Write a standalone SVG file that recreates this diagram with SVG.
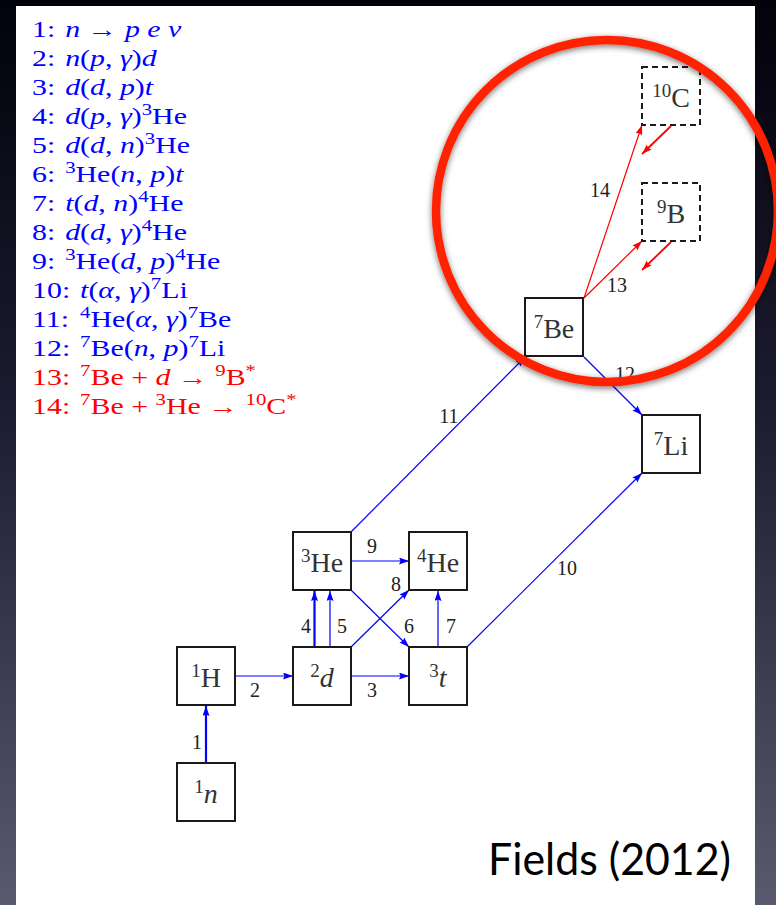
<svg xmlns="http://www.w3.org/2000/svg" width="776" height="905" viewBox="0 0 776 905">
<defs>
<linearGradient id="bg" x1="0" y1="0" x2="0" y2="1">
<stop offset="0" stop-color="#02020c"/>
<stop offset="0.45" stop-color="#1c1c30"/>
<stop offset="1" stop-color="#5a5a6e"/>
</linearGradient>
<filter id="sh" x="-20%" y="-20%" width="140%" height="140%">
<feDropShadow dx="0" dy="2" stdDeviation="3" flood-color="#000" flood-opacity="0.55"/>
</filter>
<marker id="ab" markerUnits="userSpaceOnUse" markerWidth="10" markerHeight="8" refX="10" refY="3.5" orient="auto">
<path d="M0,0 L10,3.5 L0,7 L1.5,3.5 z" fill="#0000ff"/>
</marker>
<marker id="ar" markerUnits="userSpaceOnUse" markerWidth="10" markerHeight="8" refX="10" refY="3.5" orient="auto">
<path d="M0,0 L10,3.5 L0,7 L1.5,3.5 z" fill="#ff0000"/>
</marker>
</defs>
<style>
.leg{font-family:"Liberation Serif","DejaVu Serif",serif;font-size:23px}
.blue{fill:#0000ff}
.red{fill:#ff0000}
.it{font-style:italic}
.box{fill:#fff;stroke:#1a1a1a;stroke-width:2}
.dbox{fill:#fff;stroke:#1a1a1a;stroke-width:2;stroke-dasharray:6 4}
.nl{font-family:"Liberation Serif","DejaVu Serif",serif;font-size:28px;fill:#333;text-anchor:middle}
.el{font-family:"Liberation Serif","DejaVu Serif",serif;font-size:20px;fill:#222;text-anchor:middle}
.eb{stroke:#0000ff;stroke-width:1.2;fill:none;marker-end:url(#ab)}
.ebt{stroke:#0000ff;stroke-width:2.2;fill:none;marker-end:url(#ab)}
.er{stroke:#ff0000;stroke-width:1.2;fill:none;marker-end:url(#ar)}
.ert{stroke:#ff0000;stroke-width:1.8;fill:none;marker-end:url(#ar)}
</style>
<rect x="0" y="0" width="776" height="905" fill="url(#bg)"/>
<rect x="16" y="6" width="739" height="899" fill="#fff"/>

<g id="legend" class="leg" transform="translate(32,0) scale(1.3,1) translate(-32,0)">
<text x="32" y="37" class="blue">1:<tspan x="57.5" class="it">n</tspan> → <tspan class="it">p e ν</tspan></text>
<text x="32" y="66" class="blue">2:<tspan x="57.5"><tspan class="it">n</tspan>(<tspan class="it">p</tspan>, <tspan class="it">γ</tspan>)<tspan class="it">d</tspan></tspan></text>
<text x="32" y="95" class="blue">3:<tspan x="57.5"><tspan class="it">d</tspan>(<tspan class="it">d</tspan>, <tspan class="it">p</tspan>)<tspan class="it">t</tspan></tspan></text>
<text x="32" y="124" class="blue">4:<tspan x="57.5"><tspan class="it">d</tspan>(<tspan class="it">p</tspan>, <tspan class="it">γ</tspan>)<tspan font-size="16" dy="-9">3</tspan><tspan dy="9">He</tspan></tspan></text>
<text x="32" y="153" class="blue">5:<tspan x="57.5"><tspan class="it">d</tspan>(<tspan class="it">d</tspan>, <tspan class="it">n</tspan>)<tspan font-size="16" dy="-9">3</tspan><tspan dy="9">He</tspan></tspan></text>
<text x="32" y="182" class="blue">6:<tspan x="57.5" font-size="16" dy="-9">3</tspan><tspan dy="9">He(<tspan class="it">n</tspan>, <tspan class="it">p</tspan>)<tspan class="it">t</tspan></tspan></text>
<text x="32" y="211" class="blue">7:<tspan x="57.5"><tspan class="it">t</tspan>(<tspan class="it">d</tspan>, <tspan class="it">n</tspan>)<tspan font-size="16" dy="-9">4</tspan><tspan dy="9">He</tspan></tspan></text>
<text x="32" y="240" class="blue">8:<tspan x="57.5"><tspan class="it">d</tspan>(<tspan class="it">d</tspan>, <tspan class="it">γ</tspan>)<tspan font-size="16" dy="-9">4</tspan><tspan dy="9">He</tspan></tspan></text>
<text x="32" y="269" class="blue">9:<tspan x="57.5" font-size="16" dy="-9">3</tspan><tspan dy="9">He(<tspan class="it">d</tspan>, <tspan class="it">p</tspan>)</tspan><tspan font-size="16" dy="-9">4</tspan><tspan dy="9">He</tspan></text>
<text x="32" y="298" class="blue">10:<tspan x="69"><tspan class="it">t</tspan>(<tspan class="it">α</tspan>, <tspan class="it">γ</tspan>)<tspan font-size="16" dy="-9">7</tspan><tspan dy="9">Li</tspan></tspan></text>
<text x="32" y="327" class="blue">11:<tspan x="69" font-size="16" dy="-9">4</tspan><tspan dy="9">He(<tspan class="it">α</tspan>, <tspan class="it">γ</tspan>)</tspan><tspan font-size="16" dy="-9">7</tspan><tspan dy="9">Be</tspan></text>
<text x="32" y="356" class="blue">12:<tspan x="69" font-size="16" dy="-9">7</tspan><tspan dy="9">Be(<tspan class="it">n</tspan>, <tspan class="it">p</tspan>)</tspan><tspan font-size="16" dy="-9">7</tspan><tspan dy="9">Li</tspan></text>
<text x="32" y="385" class="red">13:<tspan x="69" font-size="16" dy="-9">7</tspan><tspan dy="9">Be + <tspan class="it">d</tspan> → </tspan><tspan font-size="16" dy="-9">9</tspan><tspan dy="9">B</tspan><tspan font-size="16" dy="-9">*</tspan></text>
<text x="32" y="414" class="red">14:<tspan x="69" font-size="16" dy="-9">7</tspan><tspan dy="9">Be + </tspan><tspan font-size="16" dy="-9">3</tspan><tspan dy="9">He → </tspan><tspan font-size="16" dy="-9">10</tspan><tspan dy="9">C</tspan><tspan font-size="16" dy="-9">*</tspan></text>
</g>

<g id="connectors">
<line class="ebt" x1="206" y1="763" x2="206" y2="706"/>
<line class="eb" x1="235" y1="676" x2="293" y2="676"/>
<line class="eb" x1="351" y1="676" x2="409" y2="676"/>
<line class="ebt" x1="314.5" y1="647" x2="314.5" y2="591"/>
<line class="eb" x1="330" y1="647" x2="330" y2="591"/>
<line class="eb" x1="351" y1="590" x2="409" y2="647"/>
<line class="eb" x1="438" y1="647" x2="438" y2="591"/>
<line class="eb" x1="351" y1="647" x2="409" y2="590"/>
<line class="eb" x1="351" y1="561" x2="409" y2="561"/>
<line class="eb" x1="467" y1="647" x2="642" y2="473"/>
<line class="eb" x1="351" y1="532" x2="525" y2="357"/>
<line class="eb" x1="584" y1="357" x2="642" y2="415"/>
<line class="er" x1="584" y1="298" x2="642" y2="241"/>
<line class="er" x1="584" y1="298" x2="642" y2="125"/>
<line class="ert" x1="671" y1="242" x2="642" y2="270"/>
<line class="ert" x1="671" y1="126" x2="642" y2="154"/>
<text class="el" x="197" y="749">1</text>
<text class="el" x="255" y="697">2</text>
<text class="el" x="372" y="697">3</text>
<text class="el" x="306" y="633">4</text>
<text class="el" x="342" y="633">5</text>
<text class="el" x="409" y="633">6</text>
<text class="el" x="451" y="633">7</text>
<text class="el" x="396" y="591">8</text>
<text class="el" x="372" y="553">9</text>
<text class="el" x="567" y="575">10</text>
<text class="el" x="449" y="423">11</text>
<text class="el" x="625" y="381">12</text>
<text class="el" x="617" y="292">13</text>
<text class="el" x="600" y="197">14</text>
</g>

<g id="n1"><rect class="box" x="177" y="763" width="58" height="58"/><text class="nl" x="206" y="803"><tspan font-size="19" dy="-10">1</tspan><tspan class="it" dy="10">n</tspan></text></g>
<g id="H1"><rect class="box" x="177" y="647" width="58" height="58"/><text class="nl" x="206" y="687"><tspan font-size="19" dy="-10">1</tspan><tspan dy="10">H</tspan></text></g>
<g id="d2"><rect class="box" x="293" y="647" width="58" height="58"/><text class="nl" x="322" y="687"><tspan font-size="19" dy="-10">2</tspan><tspan class="it" dy="10">d</tspan></text></g>
<g id="t3"><rect class="box" x="409" y="647" width="58" height="58"/><text class="nl" x="438" y="687"><tspan font-size="19" dy="-10">3</tspan><tspan class="it" dy="10">t</tspan></text></g>
<g id="He3"><rect class="box" x="293" y="532" width="58" height="58"/><text class="nl" x="322" y="572"><tspan font-size="19" dy="-10">3</tspan><tspan dy="10">He</tspan></text></g>
<g id="He4"><rect class="box" x="409" y="532" width="58" height="58"/><text class="nl" x="438" y="572"><tspan font-size="19" dy="-10">4</tspan><tspan dy="10">He</tspan></text></g>
<g id="Be7"><rect class="box" x="525" y="298" width="58" height="58"/><text class="nl" x="554" y="338"><tspan font-size="19" dy="-10">7</tspan><tspan dy="10">Be</tspan></text></g>
<g id="Li7"><rect class="box" x="642" y="415" width="58" height="58"/><text class="nl" x="671" y="455"><tspan font-size="19" dy="-10">7</tspan><tspan dy="10">Li</tspan></text></g>
<g id="B9"><rect class="dbox" x="642" y="183" width="58" height="58"/><text class="nl" x="671" y="223"><tspan font-size="19" dy="-10">9</tspan><tspan dy="10">B</tspan></text></g>
<g id="C10"><rect class="dbox" x="642" y="67" width="58" height="58"/><text class="nl" x="671" y="107"><tspan font-size="19" dy="-10">10</tspan><tspan dy="10">C</tspan></text></g>

<circle cx="607" cy="211" r="171" fill="none" stroke="#ff2200" stroke-width="8.5" filter="url(#sh)"/>

<text x="731" y="875" font-family="Lato,'Open Sans',sans-serif" font-size="44" fill="#000" text-anchor="end" textLength="243" lengthAdjust="spacingAndGlyphs">Fields (2012)</text>
</svg>
